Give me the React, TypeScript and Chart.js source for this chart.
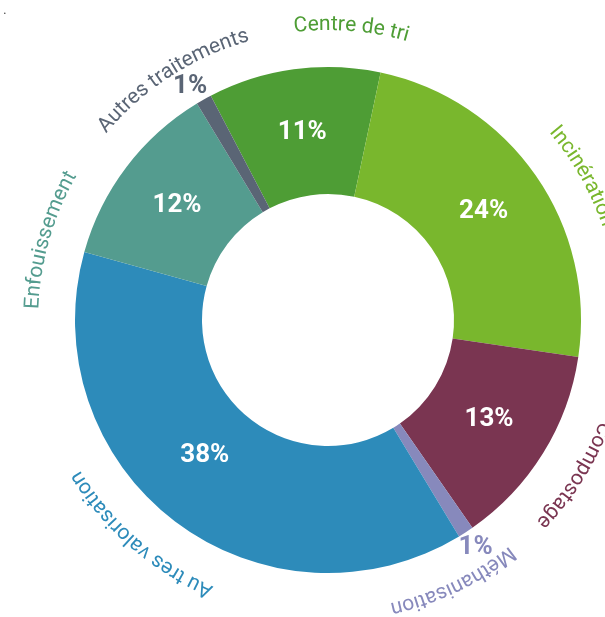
import React, { useEffect, useRef } from "react";
import { Chart, registerables } from "chart.js";

Chart.register(...registerables);

const categories = [
  "Centre de tri",
  "Incinération",
  "Compostage",
  "Méthanisation",
  "Au tres valorisation",
  "Enfouissement",
  "Autres traitements",
];
const shares = [11, 24, 13, 1, 38, 12, 1];
const percentLabels = ["11%", "24%", "13%", "1%", "38%", "12%", "1%"];
const colors = ["#4e9d35", "#79b72d", "#7a3551", "#8789bc", "#2d8bba", "#549c8f", "#5a6575"];

// layout: shift (degrees) of each curved label from its slice middle
const labelShift = [12.4, 5.3, 0.4, 7.5, 3.8, -21.2, -3.4];
// layout: shift (degrees / px) of each percentage label
const pctAngleShift = [0, 0, 0, 0, 5, 0, -1.2];
const pctRadiusShift = [0, 0, 0, 0, -6, 0, 0];

const FONT = "Roboto, 'Noto Sans', sans-serif";

function drawArcText(
  ctx: CanvasRenderingContext2D,
  text: string,
  cx: number,
  cy: number,
  r: number,
  center: number,
  color: string,
  font: string
) {
  ctx.save();
  ctx.font = font;
  ctx.fillStyle = color;
  ctx.textAlign = "center";
  ctx.textBaseline = "alphabetic";
  const chars = Array.from(text);
  const widths = chars.map((c) => ctx.measureText(c).width);
  const total = widths.reduce((a, b) => a + b, 0);
  let a = center - total / r / 2;
  chars.forEach((ch, i) => {
    const w = widths[i];
    const am = a + w / 2 / r;
    ctx.save();
    ctx.translate(cx + r * Math.cos(am), cy + r * Math.sin(am));
    ctx.rotate(am + Math.PI / 2);
    ctx.fillText(ch, 0, 0);
    ctx.restore();
    a += w / r;
  });
  ctx.restore();
}

const labelsPlugin = {
  id: "arcLabels",
  afterDatasetsDraw(chart: any) {
    const ctx: CanvasRenderingContext2D = chart.ctx;
    const meta = chart.getDatasetMeta(0);
    meta.data.forEach((arc: any, i: number) => {
      const { x, y, startAngle, endAngle, innerRadius, outerRadius } = arc.getProps(
        ["x", "y", "startAngle", "endAngle", "innerRadius", "outerRadius"],
        true
      );
      const mid = (startAngle + endAngle) / 2;
      drawArcText(
        ctx,
        categories[i],
        x,
        y,
        outerRadius + 37,
        mid + (labelShift[i] * Math.PI) / 180,
        colors[i],
        `400 21px ${FONT}`
      );
      ctx.save();
      ctx.textAlign = "center";
      ctx.textBaseline = "middle";
      ctx.font = `700 26px ${FONT}`;
      const pa = mid + (pctAngleShift[i] * Math.PI) / 180;
      if (shares[i] >= 3) {
        const r = (innerRadius + outerRadius) / 2 + pctRadiusShift[i];
        ctx.fillStyle = "#ffffff";
        ctx.fillText(percentLabels[i], x + r * Math.cos(pa), y + r * Math.sin(pa));
      } else {
        const r = outerRadius + 18;
        ctx.fillStyle = colors[i];
        ctx.fillText(percentLabels[i], x + r * Math.cos(pa), y + r * Math.sin(pa));
      }
      ctx.restore();
    });
    ctx.save();
    ctx.fillStyle = "#555555";
    ctx.font = `400 14px ${FONT}`;
    ctx.textBaseline = "alphabetic";
    ctx.fillText(".", 3, 14);
    ctx.restore();
  },
};

export default function App() {
  const ref = useRef<HTMLCanvasElement | null>(null);
  useEffect(() => {
    if (!ref.current) return;
    const chart = new Chart(ref.current, {
      type: "doughnut",
      data: {
        labels: categories,
        datasets: [
          {
            data: shares,
            backgroundColor: colors,
            borderWidth: 0,
            hoverBorderWidth: 0,
            hoverOffset: 0,
          },
        ],
      },
      options: {
        responsive: false,
        animation: false,
        devicePixelRatio: 1,
        rotation: -27.6,
        radius: 253,
        cutout: 126,
        layout: { padding: { left: 75, right: 24, top: 67, bottom: 44 } },
        plugins: { legend: { display: false }, tooltip: { enabled: false } },
        events: [],
      },
      plugins: [labelsPlugin],
    } as any);
    return () => chart.destroy();
  }, []);
  return (
    <div style={{ position: "absolute", left: 0, top: 0, width: 605, height: 617, background: "#fff" }}>
      <canvas ref={ref} width={605} height={617} style={{ display: "block" }} />
    </div>
  );
}
